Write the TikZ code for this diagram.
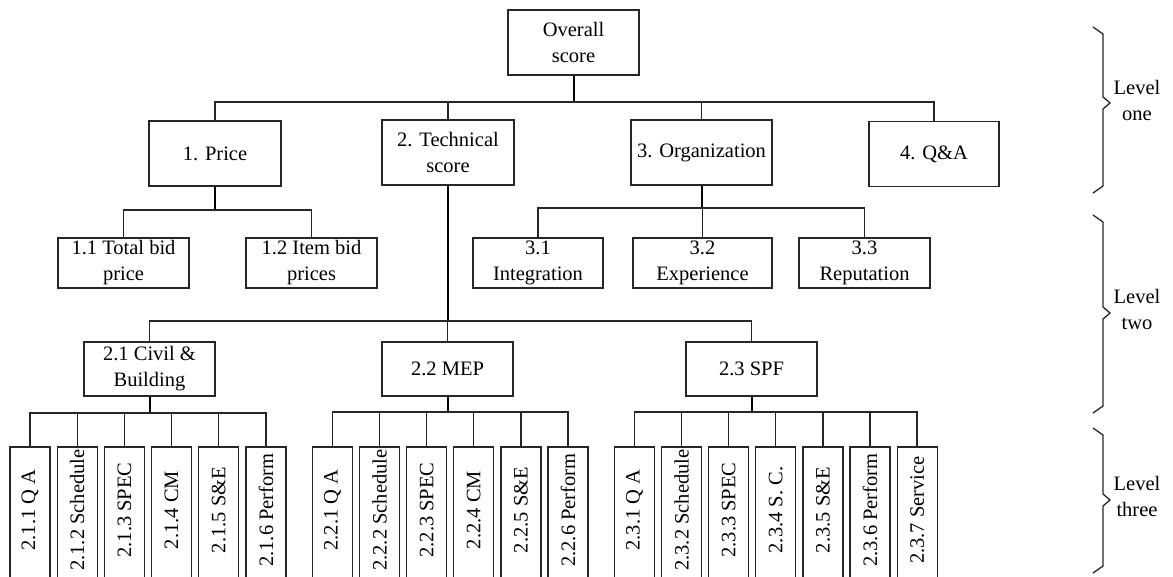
\documentclass[tikz,border=0pt]{standalone}
\usepackage{fontspec}
\setmainfont{Liberation Serif}
\begin{document}
\begin{tikzpicture}[x=1pt,y=-1pt,
  every node/.style={font=\fontsize{20.5}{26}\selectfont},
  box/.style={draw=black!85, line width=1.2pt, align=center, inner sep=0pt, minimum height=65pt},
  subbox/.style={box, minimum height=50pt},
  midbox/.style={box, minimum height=54pt},
  leaf/.style={draw=black!85, line width=1.2pt, rotate=90, minimum width=132pt, minimum height=40pt, inner sep=0pt},
  wire/.style={draw=black!85, line width=1.3pt},
  stem/.style={draw=black, line width=2pt},
  bracket/.style={draw=black!85, line width=1.3pt, line join=miter},
  lvl/.style={align=center, inner sep=0pt}]
\useasboundingbox (0,0) rectangle (1173,576);
\clip (0,0) rectangle (1173,576);

% ---------- level one ----------
\node[box, minimum width=131pt] (overall) at (573.5,42.5) {Overall\\score};
\node[box, minimum width=132pt] (price) at (215,153.5) {1. Price};
\node[box, minimum width=132pt] (tech) at (448,152.5) {2. Technical\\score};
\node[box, minimum width=141pt] (org) at (701.5,152.5) {3. Organization};
\node[box, minimum width=130pt] (qa) at (934,154) {4. Q\&A};

\coordinate (b0) at (573.5,102);
\draw[stem] (overall.south) -- (b0);
\draw[wire] (price.north) |- (qa.north |- b0) -- (qa.north);
\draw[wire] (tech.north) -- (tech.north |- b0);
\draw[wire] (org.north) -- (org.north |- b0);

% ---------- level two: price ----------
\node[subbox, minimum width=131pt] (p1) at (123.5,263) {1.1 Total bid\\price};
\node[subbox, minimum width=131pt] (p2) at (311.5,263) {1.2 Item bid\\prices};
\coordinate (bp) at (215,210);
\draw[stem] (price.south) -- (bp);
\draw[wire] (p1.north) |- (p2.north |- bp) -- (p2.north);

% ---------- level two: organization ----------
\node[subbox, minimum width=130pt] (o1) at (538,263) {3.1\\Integration};
\node[subbox, minimum width=139pt] (o2) at (702.5,263) {3.2\\Experience};
\node[subbox, minimum width=131pt] (o3) at (864.5,263) {3.3\\Reputation};
\coordinate (bo) at (701.5,208);
\draw[stem] (org.south) -- (bo);
\draw[wire] (o1.north) |- (o3.north |- bo) -- (o3.north);
\draw[wire] (o2.north) -- (o2.north |- bo);

% ---------- level two: technical ----------
\node[midbox, minimum width=131pt] (c1) at (149.5,369) {2.1 Civil \&\\Building};
\node[midbox, minimum width=131pt] (c2) at (447.5,369) {2.2 MEP};
\node[midbox, minimum width=131pt] (c3) at (751.5,369) {2.3 SPF};
\coordinate (bt) at (448,321);
\draw[stem] (tech.south) -- (bt);
\draw[wire] (c1.north) |- (c3.north |- bt) -- (c3.north);
\draw[wire] (c2.north) -- (c2.north |- bt);

% ---------- level three ----------
\foreach \lbl [count=\i] in {2.1.1 Q A, 2.1.2 Schedule, 2.1.3 SPEC, 2.1.4 CM, {2.1.5 S\&E}, 2.1.6 Perform}
  \node[leaf] (a\i) at ({30+47.2*(\i-1)},513) {\hspace*{6pt}\lbl};
\foreach \lbl [count=\i] in {2.2.1 Q A, 2.2.2 Schedule, 2.2.3 SPEC, 2.2.4 CM, {2.2.5 S\&E}, 2.2.6 Perform}
  \node[leaf] (m\i) at ({332.5+47.1*(\i-1)},513) {\hspace*{6pt}\lbl};
\foreach \lbl [count=\i] in {2.3.1 Q A, 2.3.2 Schedule, 2.3.3 SPEC, {2.3.4 S. C.}, {2.3.5 S\&E}, 2.3.6 Perform, 2.3.7 Service}
  \node[leaf] (s\i) at ({634.5+47.1*(\i-1)},513) {\hspace*{6pt}\lbl};

\coordinate (ba) at (149.5,413);
\draw[stem] (c1.south) -- (ba);
\draw[wire] (a1.east) |- (a6.east |- ba) -- (a6.east);
\foreach \i in {2,...,5} \draw[wire] (a\i.east) -- (a\i.east |- ba);

\coordinate (bm) at (447.5,412);
\draw[stem] (c2.south) -- (bm);
\draw[wire] (m1.east) |- (m6.east |- bm) -- (m6.east);
\foreach \i in {2,...,5} \draw[wire] (m\i.east) -- (m\i.east |- bm);

\coordinate (bs) at (751.5,412);
\draw[stem] (c3.south) -- (bs);
\draw[wire] (s1.east) |- (s7.east |- bs) -- (s7.east);
\foreach \i in {2,...,6} \draw[wire] (s\i.east) -- (s\i.east |- bs);

% ---------- level brackets ----------
\node[lvl] (lv1) at (1137,100) {Level\\one};
\node[lvl] (lv2) at (1137,309) {Level\\two};
\node[lvl] (lv3) at (1137,496) {Level\\three};
\draw[bracket] (1093,27) -- (1103,34) -- (1103,97) -- (1110,103) -- (1103,109) -- (1103,186) -- (1093,193);
\draw[bracket] (1093,215) -- (1103,222) -- (1103,307) -- (1110,313) -- (1103,319) -- (1103,406) -- (1093,413);
\draw[bracket] (1093,428) -- (1103,435) -- (1103,494) -- (1110,500) -- (1103,506) -- (1103,566) -- (1093,573);
\end{tikzpicture}
\end{document}
